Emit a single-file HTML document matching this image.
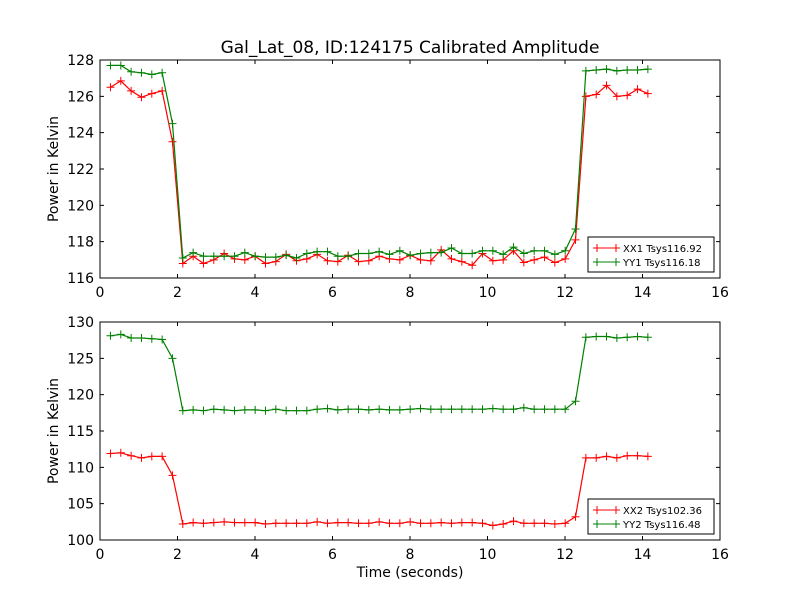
<!DOCTYPE html>
<html><head><meta charset="utf-8"><style>
body{margin:0;background:#fff;}
svg{display:block;font-family:"DejaVu Sans","Liberation Sans",sans-serif;}
</style></head><body>
<svg id="chart" width="800" height="600" xmlns="http://www.w3.org/2000/svg">
<rect width="800" height="600" fill="#fff"/>
<text x="410" y="53" font-size="17" text-anchor="middle">Gal_Lat_08, ID:124175 Calibrated Amplitude</text>
</svg>
<script>
const xx1 = [126.5,126.85,126.3,125.95,126.15,126.3,123.5,
116.8,117.2,116.8,117.0,117.35,117.05,117.0,117.2,116.8,116.9,117.3,116.95,117.05,117.3,116.95,116.9,117.25,116.9,116.95,117.2,117.05,117.0,117.25,117.0,116.95,117.55,117.05,116.9,116.7,117.35,116.95,117.0,117.5,116.85,117.0,117.15,116.85,117.05,118.1,
126.0,126.1,126.6,126.0,126.05,126.4,126.15];
const yy1 = [127.7,127.7,127.35,127.3,127.2,127.3,124.5,
117.1,117.4,117.2,117.2,117.2,117.2,117.4,117.2,117.15,117.15,117.25,117.1,117.35,117.45,117.45,117.2,117.2,117.35,117.35,117.45,117.3,117.5,117.25,117.35,117.4,117.4,117.65,117.35,117.35,117.5,117.5,117.3,117.7,117.35,117.5,117.5,117.3,117.5,118.7,
127.4,127.45,127.5,127.4,127.45,127.45,127.5];
const xx2 = [111.9,112.0,111.6,111.3,111.5,111.5,108.9,
102.2,102.4,102.3,102.4,102.5,102.4,102.4,102.4,102.2,102.3,102.3,102.3,102.3,102.5,102.3,102.4,102.4,102.3,102.3,102.5,102.3,102.3,102.5,102.3,102.3,102.4,102.3,102.4,102.4,102.3,
102.0,102.2,102.6,102.3,102.3,102.3,102.2,102.3,103.2,
111.3,111.3,111.5,111.3,111.6,111.6,111.5];
const yy2 = [128.1,128.3,127.8,127.8,127.7,127.6,125.0,
117.8,117.9,117.8,118.0,117.9,117.8,117.9,117.9,117.8,118.0,117.8,117.8,117.8,118.0,118.1,117.9,118.0,118.0,117.9,118.0,117.9,117.9,118.0,118.1,118.0,118.0,118.0,118.0,118.0,118.0,118.1,118.0,118.0,118.2,118.0,118.0,118.0,118.0,119.1,
127.9,128.0,128.0,127.8,127.9,128.0,127.9];
const xTicks = [0,2,4,6,8,10,12,14,16];
const yTicks1 = [116,118,120,122,124,126,128];
const yTicks2 = [100,105,110,115,120,125,130];
const t0 = 0.27, dt = 0.2667;

const NS = "http://www.w3.org/2000/svg";
const svg = document.getElementById('chart');
function mk(tag, attrs, parent){const e=document.createElementNS(NS,tag);for(const k in attrs)e.setAttribute(k,attrs[k]);(parent||svg).appendChild(e);return e;}

function panel(name, top, bottom, ymin, ymax, yTicks, s1, s2, l1, l2, showXLabel){
  const L=100,R=720;
  const xs=v=>L+(v-0)/(16-0)*(R-L);
  const ys=v=>bottom-(v-ymin)/(ymax-ymin)*(bottom-top);
  const g=mk('g',{});
  
  
  [[s1,'#ff0000','red'],[s2,'#008000','green']].forEach(([s,c,n])=>{
    const pts=s.map((v,i)=>xs(t0+i*dt).toFixed(1)+','+ys(v).toFixed(1)).join(' ');
    const pl=mk('polyline',{points:pts,fill:'none',stroke:c,'stroke-width':1.2},g);
    
    
    s.forEach((v,i)=>{const x=xs(t0+i*dt),y=ys(v);
      const m=mk('path',{d:`M${x-4},${y}H${x+4}M${x},${y-4}V${y+4}`,stroke:c,'stroke-width':1},g);
      
      
    });
  });
  const frame=mk('rect',{x:L,y:top,width:R-L,height:bottom-top,fill:'none',stroke:'#000','stroke-width':1},g);
  
  
  xTicks.forEach(v=>{const x=xs(v);
    mk('path',{d:`M${x},${bottom}v-4M${x},${top}v4`,stroke:'#000'},g);
    const t=mk('text',{x:x,y:bottom+19,'font-size':14,'text-anchor':'middle'},g);t.textContent=v;
    
    
  });
  yTicks.forEach(v=>{const y=ys(v);
    mk('path',{d:`M${L},${y}h4M${R},${y}h-4`,stroke:'#000'},g);
    const t=mk('text',{x:L-6,y:y+5,'font-size':14,'text-anchor':'end'},g);t.textContent=v;
    
    
  });
  const yl=mk('text',{x:0,y:0,'font-size':14,'text-anchor':'middle',transform:`translate(58,${(top+bottom)/2}) rotate(-90)`},g);
  yl.textContent='Power in Kelvin';
  
  
  if(showXLabel){const xl=mk('text',{x:410,y:577,'font-size':14,'text-anchor':'middle'},g);xl.textContent='Time (seconds)';
    
    }
  const lg=mk('g',{},g);
  
  
  const ly=bottom-41;
  mk('rect',{x:588,y:ly,width:126,height:35,fill:'#fff',stroke:'#000','stroke-width':1},lg);
  [[l1,'#ff0000',ly+11],[l2,'#008000',ly+25]].forEach(([lab,c,y])=>{
    mk('path',{d:`M593,${y}H620M597,${y-4}v8M616,${y-4}v8`,stroke:c,'stroke-width':1},lg);
    const t=mk('text',{x:623,y:y+4,'font-size':10},lg);t.textContent=lab;
    
    
  });
}
panel('top-panel',60,278,116,128,yTicks1,xx1,yy1,'XX1 Tsys116.92','YY1 Tsys116.18',false);
panel('bottom-panel',322,540,100,130,yTicks2,xx2,yy2,'XX2 Tsys102.36','YY2 Tsys116.48',true);
</script>
</body></html>
